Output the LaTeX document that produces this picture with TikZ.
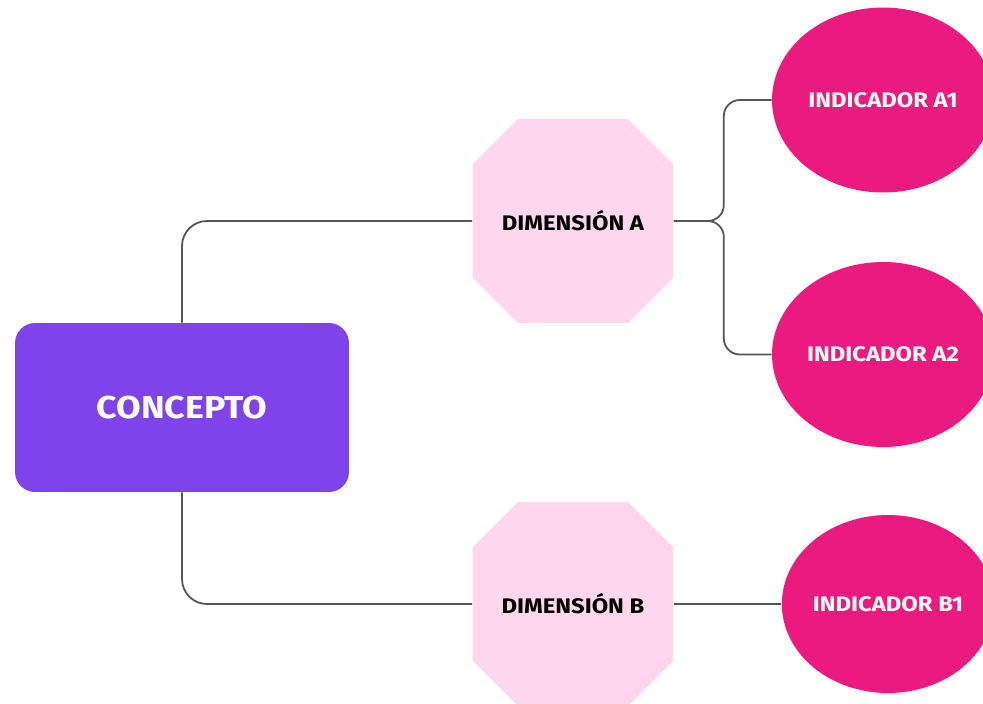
\documentclass[tikz,border=0pt]{standalone}
\usepackage{fontspec}
\setmainfont{Fira Sans}
\newfontfamily\labelfont[FakeStretch=1.13]{Fira Sans}
\usetikzlibrary{shapes.geometric,shapes.misc}

\definecolor{conceptpurple}{HTML}{7E43EA}
\definecolor{dimpink}{HTML}{FDD7EE}
\definecolor{indmagenta}{HTML}{EB1A7E}
\definecolor{linkgray}{HTML}{555555}

\tikzset{
    concept/.style={fill=conceptpurple, rounded corners=0.4cm, minimum width=6.68cm,
        minimum height=3.38cm, inner sep=0pt, text=white, font=\labelfont\fontsize{18}{20}\selectfont\bfseries},
    dimbox/.style={chamfered rectangle, chamfered rectangle xsep=0.7cm, chamfered rectangle ysep=0.7cm,
        fill=dimpink, minimum width=4.02cm, minimum height=4.08cm, inner sep=0pt,
        text=black, font=\labelfont\fontsize{12}{14}\selectfont\bfseries},
    indicator/.style={ellipse, fill=indmagenta, minimum width=4.44cm, minimum height=3.7cm,
        inner sep=0pt, text=white, font=\labelfont\fontsize{12}{14}\selectfont\bfseries},
    link/.style={draw=linkgray, line width=1pt}
}

\begin{document}
\begin{tikzpicture}[x=0.02cm, y=-0.02cm]
    \useasboundingbox (0, 0) rectangle (983, 703);
    \clip (0, 0) rectangle (983, 703);

    \node[concept] (concepto) at (182, 407.5) {CONCEPTO};

    \node[dimbox] (dimA) at (573, 221) {DIMENSIÓN A};
    \node[dimbox] (dimB) at (573, 604) {DIMENSIÓN B};

    \node[indicator] (indA1) at (883, 100) {INDICADOR A1};
    \node[indicator] (indA2) at (883, 354.5) {INDICADOR A2};
    \node[indicator, minimum width=4.2cm, minimum height=3.56cm] (indB1) at (888, 604) {INDICADOR B1};

    % concept to dimensions
    \draw[link, rounded corners=0.5cm] (concepto.north) |- (dimA.west);
    \draw[link, rounded corners=0.5cm] (concepto.south) |- (dimB.west);

    % dimension A branches
    \coordinate (splitA) at ([xshift=1cm] dimA.east);
    \draw[link, rounded corners=0.32cm] (dimA.east) -- (splitA) |- (indA1.west);
    \draw[link, rounded corners=0.32cm] (dimA.east) -- (splitA) |- (indA2.west);

    \draw[link] (dimB.east) -- (indB1.west);
\end{tikzpicture}
\end{document}
